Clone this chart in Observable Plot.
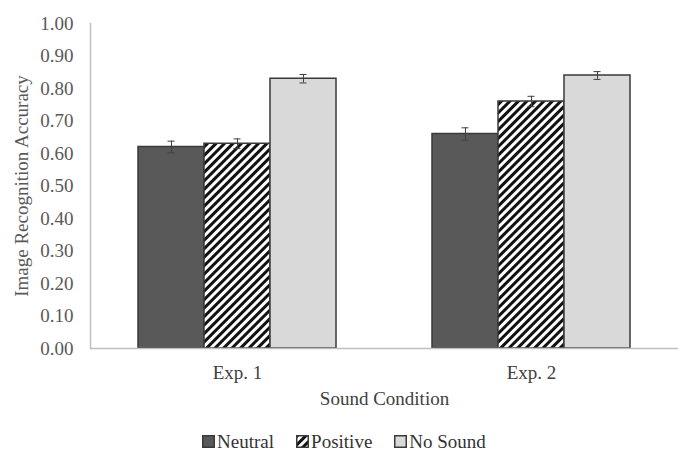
<!DOCTYPE html>
<html>
<head>
<meta charset="utf-8">
<script src="https://cdn.jsdelivr.net/npm/d3@7"></script>
<script src="https://cdn.jsdelivr.net/npm/@observablehq/plot@0.6"></script>
<style>
  body { margin: 0; background: #fff; font-family: "Liberation Serif", "Tinos", "DejaVu Serif", serif; }
  #legend { display: flex; justify-content: center; align-items: center; gap: 22px; height: 27px; font-size: 19px; color: #333; padding-left: 10px; }
  #legend .item { display: flex; align-items: center; gap: 2px; }
  #legend svg { display: block; }
</style>
</head>
<body>
<div id="chart"></div>
<div id="legend"></div>
<script>
// ---- data ----
const experiments = ["Exp. 1", "Exp. 2"];
const conditions = ["Neutral", "Positive", "No Sound"];
const exp1Means = [0.62, 0.63, 0.83];
const exp2Means = [0.66, 0.76, 0.84];
const exp1Errors = [0.018, 0.015, 0.013];
const exp2Errors = [0.019, 0.016, 0.012];
const yTicks = [0, 0.1, 0.2, 0.3, 0.4, 0.5, 0.6, 0.7, 0.8, 0.9, 1.0];
const conditionFills = ["#595959", "url(#hatch)", "#d9d9d9"];

const meansByExp = [exp1Means, exp2Means];
const errorsByExp = [exp1Errors, exp2Errors];
const rows = [];
experiments.forEach((e, i) => {
  conditions.forEach((c, j) => {
    rows.push({exp: e, cond: c, mean: meansByExp[i][j], err: errorsByExp[i][j]});
  });
});

const NS = "http://www.w3.org/2000/svg";
function hatchDefs(id) {
  const d = document.createElementNS(NS, "defs");
  d.innerHTML = `<pattern id="${id}" patternUnits="userSpaceOnUse" width="6" height="6" patternTransform="rotate(45)">
    <rect width="6" height="6" fill="#ffffff"></rect>
    <rect width="3" height="6" fill="#111111"></rect>
  </pattern>`;
  return d;
}

const barStroke = "#3a3a3a";
const errStroke = "#404040";
const capInset = 29.5;
const fontStack = '"Liberation Serif", "Tinos", "DejaVu Serif", serif';

const chart = Plot.plot({
  width: 678,
  height: 428,
  marginLeft: 89,
  marginRight: 0,
  marginTop: 23,
  marginBottom: 80,
  style: {fontFamily: fontStack, fontSize: "19px", background: "#fff", color: "#595959"},
  fx: {domain: experiments, padding: 0},
  x: {domain: conditions, paddingInner: 0, paddingOuter: 0.72, axis: null},
  y: {domain: [0, 1]},
  color: {domain: conditions, range: conditionFills},
  marks: [
    () => hatchDefs("hatch"),
    Plot.axisY({ticks: yTicks, tickFormat: d => d.toFixed(2), tickSize: 0, tickPadding: 17,
      label: "Image Recognition Accuracy", labelAnchor: "center", labelOffset: 76, labelArrow: false, fill: "#595959"}),
    Plot.axisFx({anchor: "bottom", tickSize: 0, tickPadding: 17, label: "Sound Condition",
      labelAnchor: "center", labelOffset: 56, labelArrow: false, fill: "#404040"}),
    Plot.barY(rows, {fx: "exp", x: "cond", y: "mean", fill: "cond", stroke: barStroke, strokeWidth: 1.5}),
    Plot.frame({anchor: "left", stroke: "#bfbfbf", strokeWidth: 1.5, facetAnchor: "left"}),
    Plot.ruleY([0], {stroke: "#bfbfbf", strokeWidth: 1.5}),
    Plot.ruleX(rows, {fx: "exp", x: "cond", y1: d => d.mean - d.err, y2: d => d.mean + d.err, stroke: errStroke, strokeWidth: 1}),
    Plot.tickY(rows, {fx: "exp", x: "cond", y: d => d.mean - d.err, insetLeft: capInset, insetRight: capInset, stroke: errStroke, strokeWidth: 1}),
    Plot.tickY(rows, {fx: "exp", x: "cond", y: d => d.mean + d.err, insetLeft: capInset, insetRight: capInset, stroke: errStroke, strokeWidth: 1})
  ]
});
document.getElementById("chart").appendChild(chart);

// ---- legend ----
const legend = document.getElementById("legend");
conditions.forEach((c, i) => {
  const item = document.createElement("div");
  item.className = "item";
  const sw = document.createElementNS(NS, "svg");
  sw.setAttribute("width", 13);
  sw.setAttribute("height", 13);
  let fill = conditionFills[i];
  if (fill.startsWith("url")) {
    sw.appendChild(hatchDefs("hatchLegend" + i));
    fill = `url(#hatchLegend${i})`;
  }
  const r = document.createElementNS(NS, "rect");
  r.setAttribute("x", 0.75); r.setAttribute("y", 0.75);
  r.setAttribute("width", 11.5); r.setAttribute("height", 11.5);
  r.setAttribute("fill", fill);
  r.setAttribute("stroke", barStroke);
  r.setAttribute("stroke-width", 1.5);
  sw.appendChild(r);
  const t = document.createElement("span");
  t.textContent = c;
  item.appendChild(sw);
  item.appendChild(t);
  legend.appendChild(item);
});
</script>
</body>
</html>
